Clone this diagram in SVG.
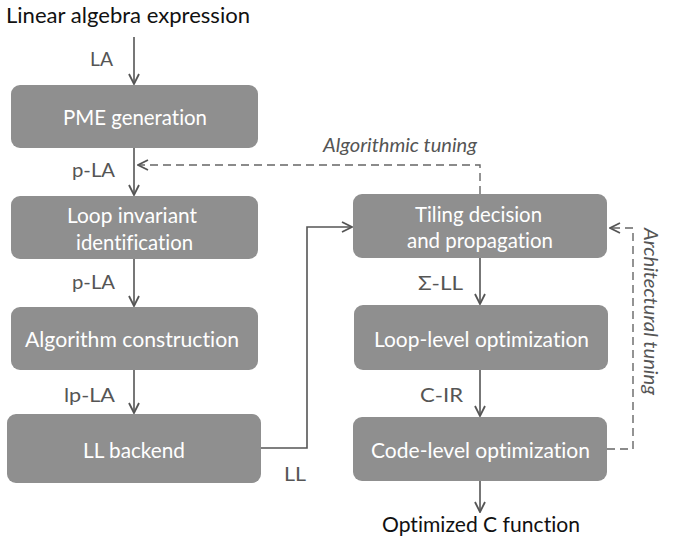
<svg xmlns="http://www.w3.org/2000/svg" width="678" height="546" viewBox="0 0 678 546">
<style>
text{font-family:Lato,"Open Sans",sans-serif;font-variant-ligatures:none}
.box{fill:#8f8f8f}
.bt{fill:#fff;font-size:20.5px;text-anchor:middle}
.lb{fill:#555;font-size:19.5px}
.io{fill:#111;font-size:20.5px}
.it{fill:#555;font-size:19.5px;font-style:italic}
.ln{fill:none;stroke:#555;stroke-width:1.6}
.ds{fill:none;stroke:#666;stroke-width:1.4;stroke-dasharray:8 5}
</style>
<defs>
<marker id="ah" viewBox="0 0 12 12" refX="11" refY="6" markerWidth="12" markerHeight="12" markerUnits="userSpaceOnUse" orient="auto">
<path d="M1,1 L11,6 L1,11" fill="none" stroke="#555" stroke-width="1.8"/>
</marker>
</defs>
<text class="io" x="6" y="23" textLength="244" lengthAdjust="spacingAndGlyphs">Linear algebra expression</text>
<text class="io" x="382" y="532" textLength="198" lengthAdjust="spacingAndGlyphs">Optimized C function</text>
<g id="connectors">
<line class="ln" x1="134" y1="37" x2="134" y2="84" marker-end="url(#ah)"/>
<line class="ln" x1="134" y1="148" x2="134" y2="195" marker-end="url(#ah)"/>
<line class="ln" x1="134" y1="259" x2="134" y2="306" marker-end="url(#ah)"/>
<line class="ln" x1="134" y1="370" x2="134" y2="413" marker-end="url(#ah)"/>
<polyline class="ln" points="261,448 307,448 307,227 352,227" marker-end="url(#ah)"/>
<line class="ln" x1="480" y1="258" x2="480" y2="304" marker-end="url(#ah)"/>
<line class="ln" x1="480" y1="370" x2="480" y2="416" marker-end="url(#ah)"/>
<line class="ln" x1="480" y1="481" x2="480" y2="512" marker-end="url(#ah)"/>
<polyline class="ds" points="480,194 480,165 138,165" marker-end="url(#ah)"/>
<polyline class="ds" points="607,449 633,449 633,228 610,228" marker-end="url(#ah)"/>
<text class="lb" x="90" y="66" textLength="23" lengthAdjust="spacingAndGlyphs">LA</text>
<text class="lb" x="72" y="177" textLength="43" lengthAdjust="spacingAndGlyphs">p-LA</text>
<text class="lb" x="72" y="289" textLength="43" lengthAdjust="spacingAndGlyphs">p-LA</text>
<text class="lb" x="64" y="402" textLength="51" lengthAdjust="spacingAndGlyphs">lp-LA</text>
<text class="lb" x="284" y="481" textLength="22" lengthAdjust="spacingAndGlyphs">LL</text>
<text class="lb" x="418" y="290" textLength="45" lengthAdjust="spacingAndGlyphs">Σ-LL</text>
<text class="lb" x="420" y="402" textLength="43" lengthAdjust="spacingAndGlyphs">C-IR</text>
<text class="it" x="323" y="152" textLength="154" lengthAdjust="spacingAndGlyphs">Algorithmic tuning</text>
<text class="it" transform="translate(644,228) rotate(90)" textLength="167" lengthAdjust="spacingAndGlyphs">Architectural tuning</text>
</g>
<g id="pme"><rect class="box" x="11" y="85" width="247" height="63" rx="9"/><text class="bt" x="135" y="125" textLength="144" lengthAdjust="spacingAndGlyphs">PME generation</text></g>
<g id="loopinv"><rect class="box" x="11" y="196" width="247" height="63" rx="9"/><text class="bt" x="132" y="223" textLength="130" lengthAdjust="spacingAndGlyphs">Loop invariant</text><text class="bt" x="134.5" y="250" textLength="117" lengthAdjust="spacingAndGlyphs">identification</text></g>
<g id="algo"><rect class="box" x="11" y="307" width="247" height="63" rx="9"/><text class="bt" x="132" y="347" textLength="214" lengthAdjust="spacingAndGlyphs">Algorithm construction</text></g>
<g id="llbackend"><rect class="box" x="7" y="414" width="254" height="69" rx="9"/><text class="bt" x="134" y="458" textLength="102" lengthAdjust="spacingAndGlyphs">LL backend</text></g>
<g id="tiling"><rect class="box" x="353" y="194" width="254" height="64" rx="9"/><text class="bt" x="478.5" y="222" textLength="127" lengthAdjust="spacingAndGlyphs">Tiling decision</text><text class="bt" x="480" y="248" textLength="146" lengthAdjust="spacingAndGlyphs">and propagation</text></g>
<g id="looplevel"><rect class="box" x="354" y="305" width="254" height="65" rx="9"/><text class="bt" x="481.5" y="347" textLength="215" lengthAdjust="spacingAndGlyphs">Loop-level optimization</text></g>
<g id="codelevel"><rect class="box" x="353" y="417" width="254" height="64" rx="9"/><text class="bt" x="480.5" y="458" textLength="219" lengthAdjust="spacingAndGlyphs">Code-level optimization</text></g>
</svg>
